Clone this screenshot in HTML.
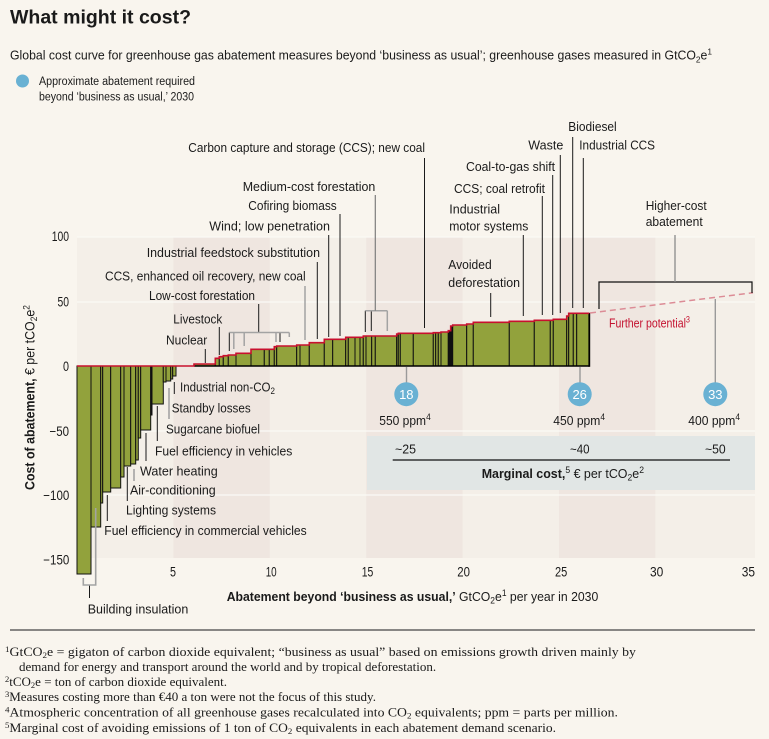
<!DOCTYPE html>
<html><head><meta charset="utf-8">
<style>
html,body{margin:0;padding:0;background:#f9f5ee;}
svg{display:block;}
text{font-family:"Liberation Sans",sans-serif;fill:#1a1a1a;}
.fn{font-family:"Liberation Serif",serif;font-size:13px;}
</style></head><body>
<svg width="769" height="739" viewBox="0 0 769 739" xmlns="http://www.w3.org/2000/svg">
<rect x="0" y="0" width="769" height="739" fill="#f9f5ee"/>

<!-- Title -->
<text x="10" y="23.5" font-size="19" font-weight="bold" textLength="181" lengthAdjust="spacingAndGlyphs">What might it cost?</text>
<text x="10" y="59.5" font-size="12.5" textLength="702" lengthAdjust="spacingAndGlyphs">Global cost curve for greenhouse gas abatement measures beyond ‘business as usual’; greenhouse gases measured in GtCO<tspan font-size="8.5" dy="3">2</tspan><tspan dy="-3">e</tspan><tspan font-size="8.5" dy="-5">1</tspan></text>

<!-- Legend -->
<circle cx="22.5" cy="81" r="6.5" fill="#69b1d3"/>
<text x="39" y="85" font-size="11.5" textLength="156" lengthAdjust="spacingAndGlyphs">Approximate abatement required</text>
<text x="39" y="100.5" font-size="11.5" textLength="155" lengthAdjust="spacingAndGlyphs">beyond ‘business as usual,’ 2030</text>

<!-- Plot background bands -->
<rect x="77" y="237" width="678" height="321" fill="#f4efe8"/>
<rect x="173.4" y="237" width="96.4" height="321" fill="#efe6e0"/>
<rect x="366.2" y="237" width="96.4" height="321" fill="#efe6e0"/>
<rect x="559" y="237" width="96.4" height="321" fill="#efe6e0"/>
<g stroke="#fbf9f5" stroke-width="1.2">
<line x1="77" y1="237" x2="755" y2="237"/>
<line x1="77" y1="302" x2="755" y2="302"/>
<line x1="77" y1="431" x2="755" y2="431"/>
<line x1="77" y1="495" x2="755" y2="495"/>
</g>

<!-- Marginal cost box -->
<rect x="367" y="436" width="388" height="54" fill="#e1e6e5"/>

<!-- Negative bars -->
<g fill="#92a23c" stroke="#111" stroke-width="1">
<rect x="77" y="366" width="14" height="208"/>
<rect x="91" y="366" width="9.7" height="161"/>
<rect x="100.7" y="366" width="2" height="137"/>
<rect x="102.7" y="366" width="8" height="126"/>
<rect x="110.7" y="366" width="10" height="122"/>
<rect x="120.7" y="366" width="3.3" height="111"/>
<rect x="124" y="366" width="6.7" height="100"/>
<rect x="130.7" y="366" width="5" height="98"/>
<rect x="135.7" y="366" width="2.6" height="94"/>
<rect x="138.3" y="366" width="2.4" height="72"/>
<rect x="140.7" y="366" width="10" height="64"/>
<rect x="150.7" y="366" width="1.3" height="49" fill="#111"/>
<rect x="152" y="366" width="11.3" height="38"/>
<rect x="163.3" y="366" width="2.7" height="16"/>
<rect x="166" y="366" width="4.7" height="15"/>
<rect x="170.7" y="366" width="2" height="13"/>
<rect x="172.7" y="366" width="3.3" height="10"/>
</g>

<!-- Positive bars -->
<g fill="#92a23c" stroke="#111" stroke-width="1">
<rect x="194" y="364" width="21.3" height="2"/>
<rect x="215.3" y="358.3" width="4" height="7.7"/>
<rect x="219.3" y="356.7" width="4" height="9.3"/>
<rect x="223.3" y="355.7" width="5" height="10.3"/>
<rect x="228.3" y="355" width="7.7" height="11"/>
<rect x="236" y="353.3" width="15" height="12.7"/>
<rect x="251" y="349.3" width="13.3" height="16.7"/>
<rect x="264.3" y="349.3" width="5" height="16.7"/>
<rect x="269.3" y="349.3" width="5" height="16.7"/>
<rect x="274.3" y="346.7" width="2.4" height="19.3"/>
<rect x="276.7" y="346" width="20" height="20"/>
<rect x="296.7" y="345" width="3.3" height="21"/>
<rect x="300" y="345" width="9.3" height="21"/>
<rect x="309.3" y="342.7" width="15" height="23.3"/>
<rect x="324.3" y="339.3" width="8.4" height="26.7"/>
<rect x="332.7" y="339.3" width="13" height="26.7"/>
<rect x="345.7" y="337.3" width="2.6" height="28.7"/>
<rect x="348.3" y="337.3" width="6.7" height="28.7"/>
<rect x="355" y="337.3" width="5" height="28.7"/>
<rect x="360" y="337.3" width="3.3" height="28.7"/>
<rect x="363.3" y="336" width="2.7" height="30"/>
<rect x="366" y="336" width="5.7" height="30"/>
<rect x="371.7" y="336" width="3.6" height="30"/>
<rect x="375.3" y="336" width="21.4" height="30"/>
<rect x="396.7" y="334" width="1.6" height="32"/>
<rect x="398.3" y="333.3" width="2" height="32.7"/>
<rect x="400.3" y="333.3" width="13" height="32.7"/>
<rect x="413.3" y="333.3" width="20" height="32.7"/>
<rect x="433.3" y="332.7" width="2.4" height="33.3"/>
<rect x="435.7" y="332.7" width="2.6" height="33.3"/>
<rect x="438.3" y="332.7" width="2.7" height="33.3"/>
<rect x="441" y="332" width="7.3" height="34"/>
<rect x="448.3" y="330.7" width="2.4" height="35.3" fill="#111"/>
<rect x="450.7" y="326" width="2" height="40" fill="#111"/>
<rect x="452.7" y="325" width="14" height="41"/>
<rect x="466.7" y="324" width="6.6" height="42"/>
<rect x="473.3" y="322.3" width="36" height="43.7"/>
<rect x="509.3" y="321.3" width="25" height="44.7"/>
<rect x="534.3" y="320.3" width="16" height="45.7"/>
<rect x="550.3" y="320.3" width="3" height="45.7"/>
<rect x="553.3" y="319.3" width="13.4" height="46.7"/>
<rect x="566.7" y="316" width="2" height="50"/>
<rect x="568.7" y="313.3" width="4.6" height="52.7"/>
<rect x="573.3" y="313.3" width="3.4" height="52.7"/>
<rect x="576.7" y="313.3" width="12.6" height="52.7"/>
</g>
<line x1="194" y1="366" x2="589.3" y2="366" stroke="#000" stroke-width="1.6"/>
<line x1="589.3" y1="313" x2="589.3" y2="366.8" stroke="#000" stroke-width="1.8"/>

<!-- Red top line -->
<path d="M77,366 H194 V364 H215.3 V358.3 H219.3 V356.7 H223.3 V355.7 H228.3 V355 H236 V353.3 H251 V349.3 H274.3 V346.7 H276.7 V346 H296.7 V345 H309.3 V342.7 H324.3 V339.3 H345.7 V337.3 H363.3 V336 H396.7 V334 H398.3 V333.3 H433.3 V332.7 H441 V332 H448.3 V330.7 H450.7 V326 H452.7 V325 H466.7 V324 H473.3 V322.3 H509.3 V321.3 H534.3 V320.3 H553.3 V319.3 H566.7 V316 H568.7 V313.3 H589.3" fill="none" stroke="#c8102e" stroke-width="1.6"/>

<!-- Dashed further potential -->
<line x1="590" y1="313" x2="753" y2="292.7" stroke="#dc8c96" stroke-width="1.5" stroke-dasharray="6,4"/>
<text x="609" y="327.5" font-size="13" style="fill:#c41230" textLength="81" lengthAdjust="spacingAndGlyphs">Further potential<tspan font-size="9" dy="-5">3</tspan></text>

<!-- Higher-cost bracket -->
<path d="M599,309 V282 H752 V293" fill="none" stroke="#111" stroke-width="1.2"/>
<line x1="675" y1="235" x2="675" y2="282" stroke="#8a8a8a" stroke-width="1.3"/>
<text x="645.7" y="210.2" font-size="13" textLength="61" lengthAdjust="spacingAndGlyphs">Higher-cost</text>
<text x="645.7" y="226.2" font-size="13" textLength="57" lengthAdjust="spacingAndGlyphs">abatement</text>

<!-- Upper leaders (black) -->
<g stroke="#1a1a1a" stroke-width="1">
<line x1="205.3" y1="349" x2="205.3" y2="363"/>
<line x1="219.3" y1="327" x2="219.3" y2="355"/>
<line x1="258.7" y1="304" x2="258.7" y2="332.5"/>
<line x1="229.3" y1="332.5" x2="229.3" y2="351"/>
<line x1="280" y1="332.5" x2="280" y2="342"/>
<line x1="317.3" y1="262" x2="317.3" y2="339"/>
<line x1="328.7" y1="235" x2="328.7" y2="337"/>
<line x1="340" y1="214" x2="340" y2="336"/>
<line x1="365.3" y1="310.7" x2="365.3" y2="332"/>
<line x1="371.3" y1="310.7" x2="371.3" y2="331"/>
<line x1="424.5" y1="158" x2="424.5" y2="328"/>
<line x1="490.7" y1="293" x2="490.7" y2="317"/>
<line x1="523.3" y1="235" x2="523.3" y2="316"/>
<line x1="542.3" y1="196" x2="542.3" y2="315"/>
<line x1="552.7" y1="175" x2="552.7" y2="315"/>
<line x1="560.3" y1="155" x2="560.3" y2="313"/>
<line x1="572.7" y1="137" x2="572.7" y2="308"/>
<line x1="583.3" y1="158" x2="583.3" y2="308"/>
</g>
<!-- Upper grey brackets -->
<g stroke="#a3a3a3" stroke-width="1.5" fill="none">
<line x1="229.3" y1="332.5" x2="289.3" y2="332.5"/>
<line x1="233.8" y1="332.5" x2="233.8" y2="349"/>
<line x1="244.2" y1="332.5" x2="244.2" y2="346"/>
<line x1="276" y1="332.5" x2="276" y2="342"/>
<line x1="289.3" y1="332.5" x2="289.3" y2="337"/>
<line x1="305" y1="286" x2="305" y2="340"/>
<line x1="365.3" y1="310.7" x2="387.3" y2="310.7"/>
<line x1="387.3" y1="310.7" x2="387.3" y2="331"/>
<line x1="375.3" y1="195" x2="375.3" y2="310.7" stroke="#7d7d7d" stroke-width="1.2"/>
</g>

<!-- Upper labels -->
<g font-size="13">
<text x="166" y="344.5" textLength="41.3" lengthAdjust="spacingAndGlyphs">Nuclear</text>
<text x="173.3" y="323.5" textLength="49" lengthAdjust="spacingAndGlyphs">Livestock</text>
<text x="149" y="300" textLength="106" lengthAdjust="spacingAndGlyphs">Low-cost forestation</text>
<text x="105" y="280.5" textLength="200.7" lengthAdjust="spacingAndGlyphs">CCS, enhanced oil recovery, new coal</text>
<text x="146.7" y="256.8" textLength="173.3" lengthAdjust="spacingAndGlyphs">Industrial feedstock substitution</text>
<text x="209.3" y="230.5" textLength="120.7" lengthAdjust="spacingAndGlyphs">Wind; low penetration</text>
<text x="248.3" y="210" textLength="88.4" lengthAdjust="spacingAndGlyphs">Cofiring biomass</text>
<text x="242.7" y="190.8" textLength="132.6" lengthAdjust="spacingAndGlyphs">Medium-cost forestation</text>
<text x="188.3" y="152" textLength="236.7" lengthAdjust="spacingAndGlyphs">Carbon capture and storage (CCS); new coal</text>
<text x="448.3" y="268.8" textLength="43.4" lengthAdjust="spacingAndGlyphs">Avoided</text>
<text x="448.3" y="286.8" textLength="71.7" lengthAdjust="spacingAndGlyphs">deforestation</text>
<text x="449.3" y="213.5" textLength="50.7" lengthAdjust="spacingAndGlyphs">Industrial</text>
<text x="449.3" y="230.5" textLength="79" lengthAdjust="spacingAndGlyphs">motor systems</text>
<text x="454" y="192.8" textLength="91" lengthAdjust="spacingAndGlyphs">CCS; coal retrofit</text>
<text x="466" y="171.2" textLength="89" lengthAdjust="spacingAndGlyphs">Coal-to-gas shift</text>
<text x="528.3" y="149.5" textLength="35" lengthAdjust="spacingAndGlyphs">Waste</text>
<text x="568.3" y="131.2" textLength="48.4" lengthAdjust="spacingAndGlyphs">Biodiesel</text>
<text x="579.3" y="149.5" textLength="75.7" lengthAdjust="spacingAndGlyphs">Industrial CCS</text>
</g>

<!-- Lower leaders -->
<g stroke="#1a1a1a" stroke-width="1">
<line x1="174.3" y1="382" x2="174.3" y2="394"/>
<line x1="157.3" y1="406" x2="157.3" y2="441"/>
<line x1="146" y1="433" x2="146" y2="461"/>
<line x1="127.3" y1="467" x2="127.3" y2="501"/>
<line x1="107.3" y1="495" x2="107.3" y2="521"/>
<line x1="89.5" y1="585" x2="89.5" y2="598"/>
</g>
<g stroke="#a3a3a3" stroke-width="1.6" fill="none">
<line x1="169" y1="388" x2="169" y2="419"/>
<line x1="134" y1="469" x2="134" y2="481"/>
<path d="M83.3,578 V585 H95.7 V508"/>
</g>

<!-- Lower labels -->
<g font-size="13">
<text x="180" y="391.5" textLength="95" lengthAdjust="spacingAndGlyphs">Industrial non-CO<tspan font-size="9" dy="2.5">2</tspan></text>
<text x="171.7" y="412.5" textLength="79" lengthAdjust="spacingAndGlyphs">Standby losses</text>
<text x="166" y="433.5" textLength="94" lengthAdjust="spacingAndGlyphs">Sugarcane biofuel</text>
<text x="155" y="455.5" textLength="137.3" lengthAdjust="spacingAndGlyphs">Fuel efficiency in vehicles</text>
<text x="140" y="475.5" textLength="77.7" lengthAdjust="spacingAndGlyphs">Water heating</text>
<text x="130" y="494.5" textLength="85.7" lengthAdjust="spacingAndGlyphs">Air-conditioning</text>
<text x="126" y="514.5" textLength="90" lengthAdjust="spacingAndGlyphs">Lighting systems</text>
<text x="104.3" y="535" textLength="202.4" lengthAdjust="spacingAndGlyphs">Fuel efficiency in commercial vehicles</text>
<text x="87.7" y="613.5" textLength="100.6" lengthAdjust="spacingAndGlyphs">Building insulation</text>
</g>

<!-- Circles -->
<g stroke="#9a9a9a" stroke-width="1.4">
<line x1="406.5" y1="367" x2="406.5" y2="383"/>
<line x1="580" y1="367" x2="580" y2="383"/>
<line x1="715.3" y1="299" x2="715.3" y2="383"/>
</g>
<circle cx="406.3" cy="394.2" r="12" fill="#69b1d3"/>
<circle cx="579.7" cy="394.2" r="12" fill="#69b1d3"/>
<circle cx="715.3" cy="394.2" r="12" fill="#69b1d3"/>
<g font-size="13" text-anchor="middle">
<text x="406.3" y="399" style="fill:#ffffff">18</text>
<text x="579.7" y="399" style="fill:#ffffff">26</text>
<text x="715.3" y="399" style="fill:#ffffff">33</text>
</g>
<g font-size="13">
<text x="379.3" y="425" textLength="51.4" lengthAdjust="spacingAndGlyphs">550 ppm<tspan font-size="9" dy="-5">4</tspan></text>
<text x="553.3" y="425" textLength="51.7" lengthAdjust="spacingAndGlyphs">450 ppm<tspan font-size="9" dy="-5">4</tspan></text>
<text x="688.3" y="425" textLength="51.7" lengthAdjust="spacingAndGlyphs">400 ppm<tspan font-size="9" dy="-5">4</tspan></text>
<text x="395" y="453.5" textLength="21" lengthAdjust="spacingAndGlyphs">~25</text>
<text x="570" y="453.5" textLength="19.5" lengthAdjust="spacingAndGlyphs">~40</text>
<text x="705" y="453.5" textLength="20.7" lengthAdjust="spacingAndGlyphs">~50</text>
<text x="481.7" y="478" textLength="162.3" lengthAdjust="spacingAndGlyphs"><tspan font-weight="bold">Marginal cost,</tspan><tspan font-size="9" dy="-5">5</tspan><tspan dy="5"> € per tCO</tspan><tspan font-size="9" dy="2.5">2</tspan><tspan dy="-2.5">e</tspan><tspan font-size="9" dy="-5">2</tspan></text>
</g>
<line x1="392.7" y1="460" x2="730" y2="460" stroke="#111" stroke-width="1.2"/>

<!-- Y ticks -->
<g font-size="13.5">
<text x="51.7" y="241" textLength="17.3" lengthAdjust="spacingAndGlyphs">100</text>
<text x="57.5" y="306.5" textLength="11.5" lengthAdjust="spacingAndGlyphs">50</text>
<text x="63" y="371" textLength="6" lengthAdjust="spacingAndGlyphs">0</text>
<text x="49.5" y="436" textLength="19.5" lengthAdjust="spacingAndGlyphs">−50</text>
<text x="43.3" y="500" textLength="26" lengthAdjust="spacingAndGlyphs">−100</text>
<text x="43.3" y="564.5" textLength="26" lengthAdjust="spacingAndGlyphs">−150</text>
</g>
<!-- X ticks -->
<g font-size="13.5">
<text x="170" y="576.5" textLength="6" lengthAdjust="spacingAndGlyphs">5</text>
<text x="265.7" y="576.5" textLength="11" lengthAdjust="spacingAndGlyphs">10</text>
<text x="361.7" y="576.5" textLength="11.6" lengthAdjust="spacingAndGlyphs">15</text>
<text x="457.3" y="576.5" textLength="12.7" lengthAdjust="spacingAndGlyphs">20</text>
<text x="555" y="576.5" textLength="12.3" lengthAdjust="spacingAndGlyphs">25</text>
<text x="650" y="576.5" textLength="13.3" lengthAdjust="spacingAndGlyphs">30</text>
<text x="741.7" y="576.5" textLength="13.3" lengthAdjust="spacingAndGlyphs">35</text>
</g>

<!-- Axis titles -->
<text transform="translate(34.5,490) rotate(-90)" font-size="14" textLength="185" lengthAdjust="spacingAndGlyphs"><tspan font-weight="bold">Cost of abatement,</tspan> € per tCO<tspan font-size="9.5" dy="2.5">2</tspan><tspan dy="-2.5">e</tspan><tspan font-size="9.5" dy="-5">2</tspan></text>
<text x="226.7" y="601" font-size="13" textLength="371.6" lengthAdjust="spacingAndGlyphs"><tspan font-weight="bold">Abatement beyond ‘business as usual,’</tspan> GtCO<tspan font-size="9" dy="2.5">2</tspan><tspan dy="-2.5">e</tspan><tspan font-size="9" dy="-5">1</tspan><tspan dy="5"> per year in 2030</tspan></text>

<!-- Footnotes -->
<line x1="10" y1="630" x2="755" y2="630" stroke="#444" stroke-width="1.2"/>
<text class="fn" x="5" y="656" textLength="631" lengthAdjust="spacingAndGlyphs"><tspan font-size="8.5" dy="-4">1</tspan><tspan dy="4">GtCO</tspan><tspan font-size="8.5" dy="2">2</tspan><tspan dy="-2">e = gigaton of carbon dioxide equivalent; “business as usual” based on emissions growth driven mainly by</tspan></text>
<text class="fn" x="19" y="671">demand for energy and transport around the world and by tropical deforestation.</text>
<text class="fn" x="5" y="686"><tspan font-size="8.5" dy="-4">2</tspan><tspan dy="4">tCO</tspan><tspan font-size="8.5" dy="2">2</tspan><tspan dy="-2">e = ton of carbon dioxide equivalent.</tspan></text>
<text class="fn" x="5" y="701"><tspan font-size="8.5" dy="-4">3</tspan><tspan dy="4">Measures costing more than €40 a ton were not the focus of this study.</tspan></text>
<text class="fn" x="5" y="716.5" textLength="613" lengthAdjust="spacingAndGlyphs"><tspan font-size="8.5" dy="-4">4</tspan><tspan dy="4">Atmospheric concentration of all greenhouse gases recalculated into CO</tspan><tspan font-size="8.5" dy="2">2</tspan><tspan dy="-2"> equivalents; ppm = parts per million.</tspan></text>
<text class="fn" x="5" y="732" textLength="551" lengthAdjust="spacingAndGlyphs"><tspan font-size="8.5" dy="-4">5</tspan><tspan dy="4">Marginal cost of avoiding emissions of 1 ton of CO</tspan><tspan font-size="8.5" dy="2">2</tspan><tspan dy="-2"> equivalents in each abatement demand scenario.</tspan></text>
</svg>
</body></html>
